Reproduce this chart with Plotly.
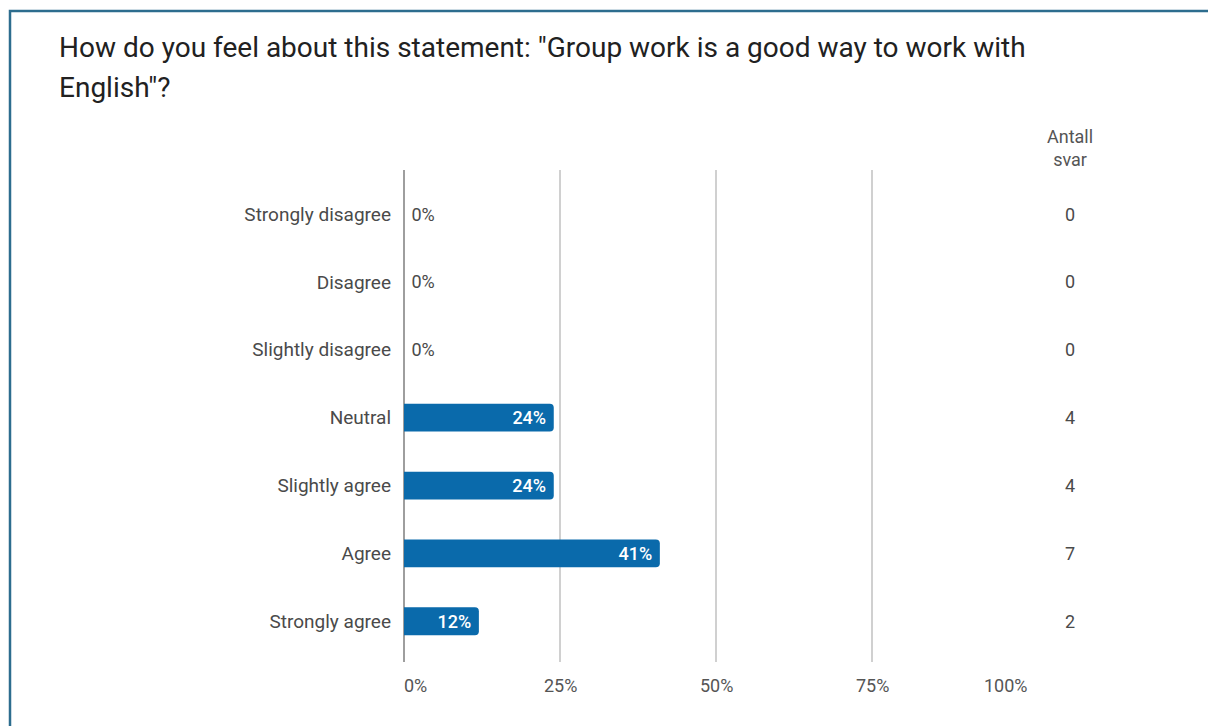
import plotly.graph_objects as go

categories = ["Strongly disagree", "Disagree", "Slightly disagree", "Neutral",
              "Slightly agree", "Agree", "Strongly agree"]
percent = [0, 0, 0, 24, 24, 41, 12]
counts = [0, 0, 0, 4, 4, 7, 2]
x_ticks = [0, 25, 50, 75, 100]
x_tick_labels = ["0%", "25%", "50%", "75%", "100%"]

title_lines = ['How do you feel about this statement: "Group work is a good way to work with',
               'English"?']
count_header = "Antall<br>svar"

FONT = "Roboto"
BAR = "#0a6aab"
TEXT = "#4a4a4a"

# plot-area geometry in pixels (used to place paper-referenced items)
W, H = 1208, 726
L, R, T, B = 404, 180, 170, 64
PW, PH = W - L - R, H - T - B


def px_x(p):
    return (p - L) / PW


def px_y(p):
    return (H - B - p) / PH


text_labels = []
text_pos = []
for v in percent:
    if v > 0:
        text_labels.append(f"{v}%\u00a0")
        text_pos.append("inside")
    else:
        text_labels.append(f"\u00a0{v}%")
        text_pos.append("outside")

fig = go.Figure(go.Bar(
    x=percent, y=categories, orientation="h",
    marker=dict(color=BAR, line=dict(width=0)),
    width=0.41,
    text=text_labels, textposition=text_pos,
    insidetextanchor="end",
    insidetextfont=dict(family=FONT, size=18, color="white", weight=500),
    outsidetextfont=dict(family=FONT, size=18, color=TEXT),
    cliponaxis=False,
))

annotations = []
for i, line in enumerate(title_lines):
    annotations.append(dict(
        text=line, xref="paper", yref="paper",
        x=px_x(57), y=px_y(47 + 41 * i), xanchor="left", yanchor="middle",
        showarrow=False, font=dict(family=FONT, size=28, color="#212121")))

count_x = px_x(1070)
annotations.append(dict(
    text=count_header, xref="paper", yref="paper", x=count_x, y=px_y(148),
    xanchor="center", yanchor="middle", showarrow=False,
    font=dict(family=FONT, size=18, color="#555555")))

for c, n in zip(categories, counts):
    annotations.append(dict(
        text=str(n), xref="paper", yref="y", x=count_x, y=c,
        xanchor="center", yanchor="middle", showarrow=False,
        font=dict(family=FONT, size=18, color=TEXT)))

for i, (v, lab) in enumerate(zip(x_ticks, x_tick_labels)):
    anchor = "left" if i == 0 else ("right" if i == len(x_ticks) - 1 else "center")
    shift = -2 if i == 0 else (2 if i == len(x_ticks) - 1 else 0)
    annotations.append(dict(
        text=lab, xref="x", yref="paper", x=v, y=px_y(685), xshift=shift,
        xanchor=anchor, yanchor="middle", showarrow=False,
        font=dict(family=FONT, size=18, color="#555555")))

shapes = [dict(
    type="rect", xref="paper", yref="paper",
    x0=px_x(10), x1=px_x(1230), y0=px_y(11), y1=px_y(760),
    line=dict(color="#2d6d8e", width=2.5), fillcolor="rgba(0,0,0,0)",
    layer="below")]

fig.update_layout(
    width=W, height=H,
    margin=dict(l=L, r=R, t=T, b=B),
    paper_bgcolor="white", plot_bgcolor="white",
    showlegend=False,
    barcornerradius=4,
    font=dict(family=FONT, color=TEXT),
    annotations=annotations, shapes=shapes,
    xaxis=dict(range=[0, 100], tickvals=x_ticks, showticklabels=False,
               showgrid=True, gridcolor="#d0d0d0", gridwidth=1.5,
               zeroline=True, zerolinecolor="#9e9e9e", zerolinewidth=2,
               fixedrange=True),
    yaxis=dict(categoryorder="array", categoryarray=categories,
               range=[6.6, -0.65], showgrid=False, zeroline=False,
               ticks="", ticklabelstandoff=12,
               tickfont=dict(family=FONT, size=19, color=TEXT),
               fixedrange=True),
)

fig.write_html("out.html", config={"displayModeBar": False})
